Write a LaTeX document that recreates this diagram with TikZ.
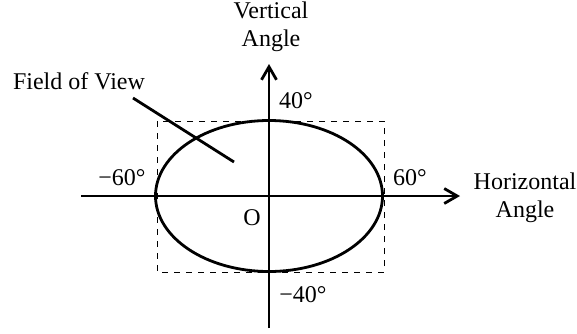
\documentclass[tikz,border=0pt]{standalone}
\usepackage{fontspec}
\setmainfont{Liberation Serif}
\usetikzlibrary{arrows.meta}

\begin{document}
\begin{tikzpicture}[x=0.5pt,y=-0.5pt]
	\tikzset{axis/.style={line width=1.4pt, -{Straight Barb[length=6.5pt,width=7.5pt,line width=1.4pt]}}}
	\tikzset{lbl/.style={font=\fontsize{12}{14}\selectfont, inner sep=0pt, align=center}}
	\useasboundingbox (0,0) rectangle (577,333);

	% axes
	\coordinate (O) at (269,196);
	\coordinate (xleft) at (81,196);
	\coordinate (xright) at (460,196);
	\coordinate (ybot) at (269,328);
	\coordinate (ytop) at (269,64);
	\draw [axis] (xleft) -- (xright);
	\draw [axis] (ybot) -- (ytop);

	% field of view
	\draw [dashed, line width=0.5pt] (157,121) rectangle (384,272);
	\draw [line width=1.4pt] (O) ellipse [x radius=113.5, y radius=75.5];

	% labels
	\node [lbl] (vert) at (271,27) {Vertical\\Angle};
	\node [lbl] (horiz) at (525,198) {Horizontal\\Angle};
	\node [lbl] (fov) at (79,81) {Field of View};
	\node [lbl] (top) at (296,101) {40°};
	\node [lbl] (bot) at (303,295) {−40°};
	\node [lbl] (right) at (410,178) {60°};
	\node [lbl] (left) at (122,178) {−60°};
	\node [lbl] (orig) at (252,218) {O};

	\coordinate (fovstart) at (133,98);
	\coordinate (fovend) at (234,162);
	\draw [line width=1.4pt] (fovstart) -- (fovend);
\end{tikzpicture}
\end{document}
